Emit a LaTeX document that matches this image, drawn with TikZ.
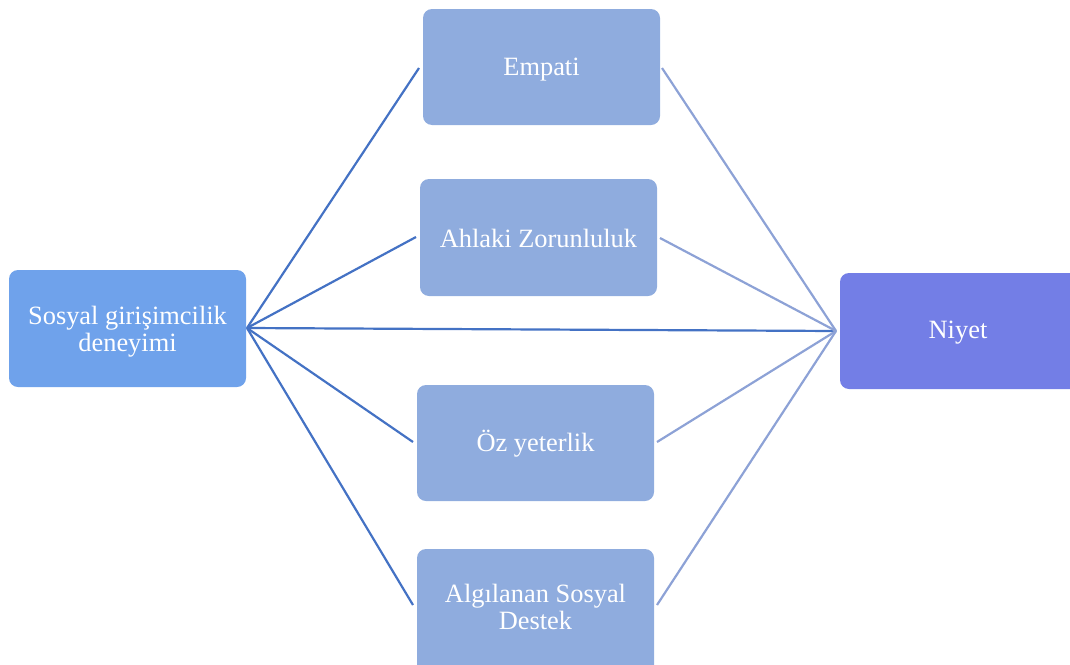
\documentclass[tikz,border=0pt]{standalone}
\usepackage{fontspec}
\setmainfont{Liberation Serif}
\begin{document}
\begin{tikzpicture}[x=1pt,y=-1pt,
  box/.style={rounded corners=9pt, text=white, align=center,
    font=\fontsize{26.4}{27.3}\selectfont, inner sep=0pt},
  srcbox/.style={box, fill=srcfill},
  midbox/.style={box, fill=midfill},
  outbox/.style={box, fill=outfill},
  inlink/.style={draw=inline, line width=2.2pt},
  outlink/.style={draw=outline, line width=2.2pt}]
\definecolor{srcfill}{HTML}{6FA2EB}
\definecolor{midfill}{HTML}{8FACDE}
\definecolor{outfill}{HTML}{737EE6}
\definecolor{inline}{HTML}{4472C4}
\definecolor{outline}{HTML}{8DA2D6}
\useasboundingbox (0,0) rectangle (1070,664);

% boxes
\path[srcbox] (9,270) rectangle (246,387);
\node[box] (src) at (127.5,331.5) {Sosyal girişimcilik\\deneyimi};
\path[outbox] (840,273) rectangle (1085,389);
\node[box] (out) at (958,333) {Niyet};
\path[midbox] (423,9) rectangle (660,125);
\node[box] (m1) at (541.5,70) {Empati};
\path[midbox] (420,179) rectangle (657,296);
\node[box] (m2) at (538.5,238.5) {Ahlaki Zorunluluk};
\path[midbox] (417,385) rectangle (654,501);
\node[box] (m3) at (535.5,444) {Öz yeterlik};
\path[midbox] (417,549) rectangle (654,680);
\node[box] (m4) at (535.5,607) {Algılanan Sosyal\\Destek};

% connector end points
\coordinate (sL) at (247,328);
\coordinate (oR) at (836,331);
\coordinate (m1l) at (419,68);  \coordinate (m1r) at (662,68);
\coordinate (m2l) at (416,237); \coordinate (m2r) at (660,238);
\coordinate (m3l) at (413,442); \coordinate (m3r) at (657,442);
\coordinate (m4l) at (413,605); \coordinate (m4r) at (657,605);

% links from the source
\draw[inlink] (sL) -- (m1l);
\draw[inlink] (sL) -- (m2l);
\draw[inlink] (sL) -- (oR);
\draw[inlink] (sL) -- (m3l);
\draw[inlink] (sL) -- (m4l);

% links into the outcome
\draw[outlink] (m1r) -- (oR);
\draw[outlink] (m2r) -- (oR);
\draw[outlink] (m3r) -- (oR);
\draw[outlink] (m4r) -- (oR);
\end{tikzpicture}
\end{document}
